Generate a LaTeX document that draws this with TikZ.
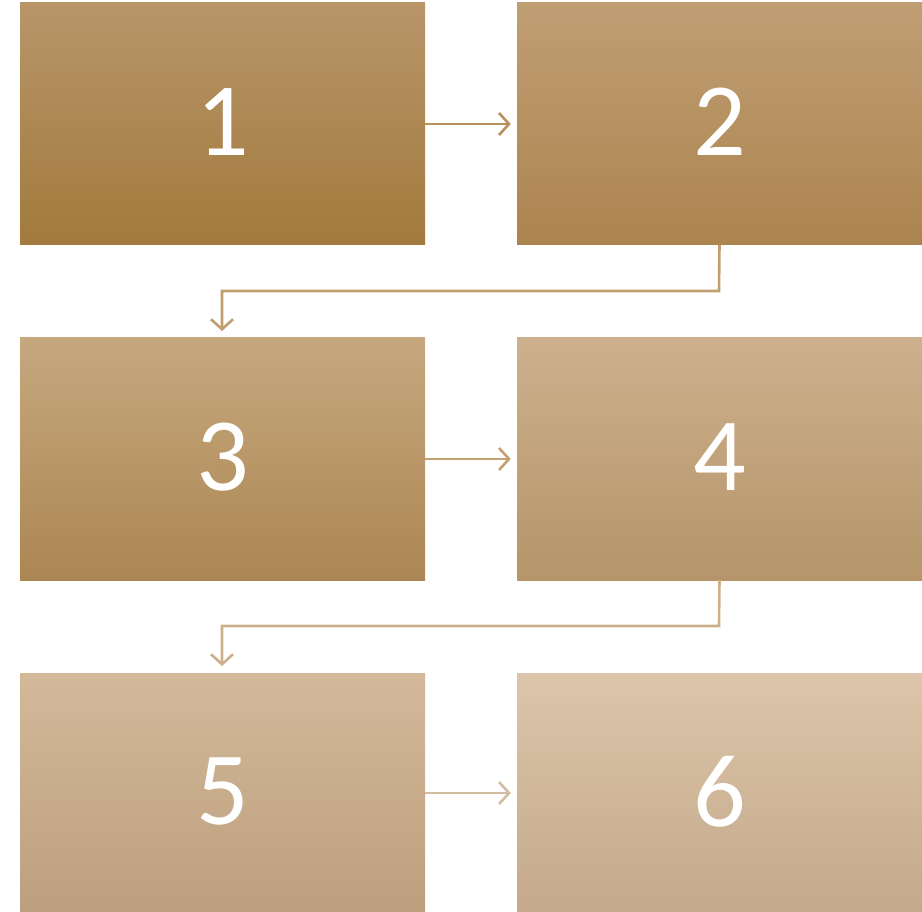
\documentclass[tikz,border=0pt]{standalone}
\usepackage{fontspec}
\setmainfont{Carlito}
\usetikzlibrary{arrows.meta}
\definecolor{tA}{RGB}{184,150,106}\definecolor{mA}{RGB}{179,138,78}\definecolor{bA}{RGB}{162,122,60}
\definecolor{tB}{RGB}{192,158,116}\definecolor{mB}{RGB}{186,148,92}\definecolor{bB}{RGB}{172,132,79}
\definecolor{tC}{RGB}{198,168,127}\definecolor{mC}{RGB}{192,156,108}\definecolor{bC}{RGB}{172,134,82}
\definecolor{tD}{RGB}{205,176,141}\definecolor{mD}{RGB}{198,166,126}\definecolor{bD}{RGB}{181,149,105}
\definecolor{tE}{RGB}{211,185,154}\definecolor{mE}{RGB}{205,176,140}\definecolor{bE}{RGB}{188,159,126}
\definecolor{tF}{RGB}{220,197,170}\definecolor{mF}{RGB}{214,188,158}\definecolor{bF}{RGB}{196,169,138}
\definecolor{aA}{RGB}{184,146,90}\definecolor{aB}{RGB}{192,158,110}\definecolor{aC}{RGB}{196,161,117}
\definecolor{aD}{RGB}{204,176,140}\definecolor{aE}{RGB}{212,188,160}
\tikzset{
  stepbox/.style={rectangle, inner sep=0pt, minimum width=405pt, minimum height=242pt,
    text=white, font=\fontsize{104}{110}\selectfont},
  conn/.style={line width=2.6pt, -{Straight Barb[length=10pt,width=22pt,line width=2.6pt]}}
}
\newcommand{\lbl}[1]{\raisebox{4pt}{#1}}
\begin{document}
\begin{tikzpicture}[x=1pt,y=-1pt]
\useasboundingbox (0,0) rectangle (922,912);
\node[stepbox, top color=tA, middle color=mA, bottom color=bA] (b1) at (222.5,124) {\lbl{1}};
\node[stepbox, top color=tB, middle color=mB, bottom color=bB] (b2) at (719.5,124) {\lbl{2}};
\node[stepbox, top color=tC, middle color=mC, bottom color=bC] (b3) at (222.5,459) {\lbl{3}};
\node[stepbox, top color=tD, middle color=mD, bottom color=bD] (b4) at (719.5,459) {\lbl{4}};
\node[stepbox, top color=tE, middle color=mE, bottom color=bE, minimum height=240pt] (b5) at (222.5,793) {\lbl{5}};
\node[stepbox, top color=tF, middle color=mF, bottom color=bF, minimum height=240pt] (b6) at (719.5,793) {\lbl{6}};
\coordinate (k1) at (719,291);
\coordinate (k2) at (222,291);
\coordinate (e3) at (222,331);
\coordinate (k3) at (719,626);
\coordinate (k4) at (222,626);
\coordinate (e5) at (222,666);
\draw[conn, aA] (b1.east) -- ([xshift=-6pt]b2.west);
\draw[conn, aB] (b2.south) -- (k1) -- (k2) -- (e3);
\draw[conn, aC] (b3.east) -- ([xshift=-6pt]b4.west);
\draw[conn, aD] (b4.south) -- (k3) -- (k4) -- (e5);
\draw[conn, aE] (b5.east) -- ([xshift=-6pt]b6.west);
\end{tikzpicture}
\end{document}
